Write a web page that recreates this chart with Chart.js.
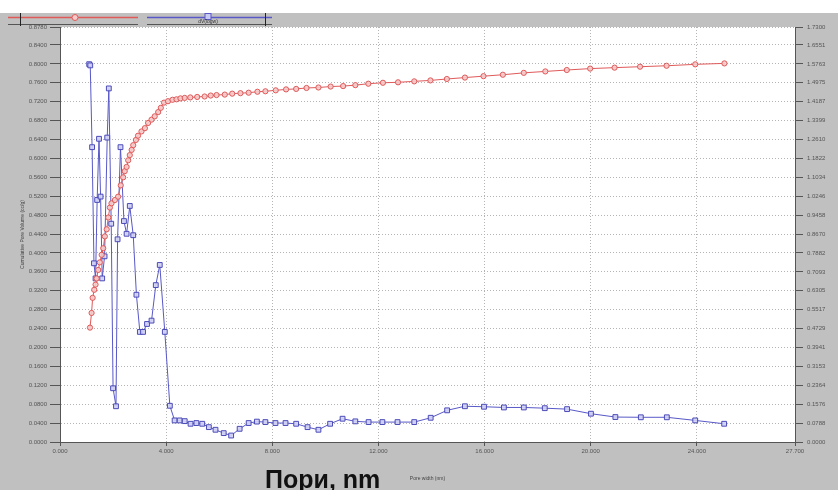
<!DOCTYPE html>
<html><head><meta charset="utf-8">
<script src="https://cdn.jsdelivr.net/npm/chart.js@4"></script>
<style>html,body{margin:0;padding:0;background:#c0c0c0;} canvas{display:block}</style>
</head><body>
<canvas id="c" width="838" height="490"></canvas>
<script>
// Cumulative pore volume (left axis, cc/g)
const cumX = [1.13,1.19,1.23,1.29,1.34,1.38,1.44,1.50,1.57,1.63,1.69,1.76,1.82,1.88,1.94,2.07,2.19,2.29,2.38,2.44,2.51,2.57,2.63,2.70,2.76,2.86,2.94,3.07,3.20,3.32,3.45,3.57,3.70,3.80,3.92,4.07,4.24,4.39,4.54,4.70,4.91,5.17,5.45,5.68,5.90,6.21,6.49,6.80,7.11,7.44,7.74,8.13,8.52,8.90,9.29,9.74,10.20,10.67,11.13,11.62,12.17,12.74,13.35,13.96,14.58,15.26,15.96,16.69,17.48,18.29,19.10,19.98,20.90,21.86,22.86,23.94,25.04];
const cumY = [0.242,0.273,0.305,0.322,0.333,0.346,0.364,0.380,0.396,0.410,0.435,0.450,0.475,0.496,0.505,0.512,0.519,0.543,0.560,0.573,0.582,0.596,0.607,0.618,0.628,0.639,0.648,0.657,0.664,0.675,0.682,0.689,0.698,0.707,0.718,0.721,0.724,0.725,0.727,0.728,0.729,0.730,0.731,0.733,0.734,0.735,0.737,0.738,0.739,0.741,0.742,0.744,0.746,0.747,0.749,0.750,0.752,0.753,0.755,0.758,0.760,0.761,0.763,0.765,0.768,0.771,0.774,0.777,0.781,0.784,0.787,0.790,0.792,0.794,0.796,0.799,0.801];
// Pore size distribution (right axis)
const distX = [1.10,1.14,1.21,1.28,1.34,1.40,1.47,1.53,1.59,1.68,1.78,1.84,1.93,2.00,2.11,2.17,2.28,2.41,2.51,2.63,2.76,2.88,3.01,3.13,3.28,3.45,3.61,3.76,3.95,4.14,4.32,4.51,4.70,4.92,5.14,5.36,5.61,5.86,6.17,6.45,6.77,7.11,7.42,7.74,8.12,8.50,8.90,9.33,9.74,10.18,10.65,11.13,11.63,12.15,12.72,13.35,13.97,14.59,15.26,15.98,16.73,17.48,18.27,19.11,20.01,20.93,21.89,22.87,23.94,25.03];
const distY = [1.575,1.570,1.229,0.745,0.682,1.009,1.264,1.023,0.682,0.774,1.269,1.474,0.910,0.224,0.149,0.845,1.229,0.921,0.868,0.984,0.862,0.614,0.459,0.459,0.492,0.506,0.654,0.738,0.459,0.151,0.090,0.090,0.087,0.076,0.079,0.076,0.062,0.051,0.037,0.027,0.055,0.079,0.085,0.083,0.079,0.079,0.076,0.062,0.051,0.076,0.097,0.086,0.083,0.083,0.083,0.083,0.101,0.132,0.149,0.147,0.144,0.144,0.141,0.137,0.118,0.104,0.103,0.103,0.090,0.076];
// Axis ticks
const xTicks = [0,4,8,12,16,20,24,27.7];
const leftTicks = [0,0.04,0.08,0.12,0.16,0.20,0.24,0.28,0.32,0.36,0.40,0.44,0.48,0.52,0.56,0.60,0.64,0.68,0.72,0.76,0.80,0.84,0.878];
const rightTicks = [0,0.0788,0.1576,0.2364,0.3153,0.3941,0.4729,0.5517,0.6305,0.7093,0.7882,0.8670,0.9458,1.0246,1.1034,1.1822,1.2610,1.3399,1.4187,1.4975,1.5763,1.6551,1.7300];
const xTitle = 'Pore width (nm)';
const yTitle = 'Cumulative Pore Volume (cc/g)';
const bigCaption = 'Пори, nm';
const seriesLabels = ['Cumulative Pore Volume', 'dV(logw)'];

const RED = '#e05a5a', BLUE = '#5858c8';
const tickFont = {family:'Liberation Sans', size:6};

const bgPlugin = {
  id:'bg',
  beforeDraw(chart){
    const {ctx, chartArea:a} = chart;
    ctx.save();
    ctx.fillStyle = '#c0c0c0'; ctx.fillRect(0,0,chart.width,chart.height);
    ctx.fillStyle = '#ffffff'; ctx.fillRect(0,0,chart.width,13);
    ctx.fillRect(a.left,a.top,a.right-a.left,a.bottom-a.top);
    ctx.restore();
  },
  afterDraw(chart){
    const ctx = chart.ctx;
    ctx.save();
    const items = [
      {x1:8,x2:138,mx:75,color:RED,shape:'circle',vx:20.5,label:''},
      {x1:147,x2:272,mx:208,color:BLUE,shape:'rect',vx:265.5,label:seriesLabels[1]}
    ];
    items.forEach(it=>{
      ctx.strokeStyle = it.color; ctx.lineWidth = 1.5;
      ctx.beginPath(); ctx.moveTo(it.x1,17.5); ctx.lineTo(it.x2,17.5); ctx.stroke();
      ctx.strokeStyle = '#555'; ctx.lineWidth = 1;
      ctx.beginPath(); ctx.moveTo(it.x1,24.5); ctx.lineTo(it.x2,24.5); ctx.stroke();
      ctx.strokeStyle = '#222';
      ctx.beginPath(); ctx.moveTo(it.vx,13); ctx.lineTo(it.vx,26); ctx.stroke();
      ctx.strokeStyle = it.color; ctx.lineWidth = 1;
      if (it.shape==='circle'){
        ctx.fillStyle = '#f6caca';
        ctx.beginPath(); ctx.arc(it.mx,17.5,3,0,Math.PI*2); ctx.fill(); ctx.stroke();
      } else {
        ctx.fillStyle = '#c8c8f0';
        ctx.fillRect(it.mx-3,13.5,6,6); ctx.strokeRect(it.mx-3,13.5,6,6);
      }
      if (it.label){
        ctx.fillStyle = '#333'; ctx.font = '5px "Liberation Sans"';
        ctx.textAlign = 'center'; ctx.textBaseline = 'middle';
        ctx.fillText(it.label, it.mx, 22);
      }
    });
    ctx.fillStyle = '#111';
    ctx.font = 'bold 25px "Liberation Sans"';
    ctx.textAlign = 'left'; ctx.textBaseline = 'alphabetic';
    ctx.fillText(bigCaption, 265, 488);
    ctx.restore();
  }
};

const tickAfterBuild = arr => scale => { scale.ticks = arr.map(v=>({value:v})); };

new Chart(document.getElementById('c'), {
  type:'line',
  data:{
    datasets:[
      {label:seriesLabels[0], data:cumX.map((x,i)=>({x, y:cumY[i]})), yAxisID:'y',
       borderColor:RED, borderWidth:1, pointStyle:'circle', pointRadius:2.6,
       pointBorderColor:RED, pointBackgroundColor:'rgba(246,202,202,0.9)', pointBorderWidth:1, tension:0},
      {label:seriesLabels[1], data:distX.map((x,i)=>({x, y:distY[i]})), yAxisID:'y1',
       borderColor:BLUE, borderWidth:1, pointStyle:'rect', pointRadius:3.4,
       pointBorderColor:'#4b4bb8', pointBackgroundColor:'rgba(210,210,245,0.9)', pointBorderWidth:1, tension:0}
    ]
  },
  options:{
    responsive:false, animation:false, devicePixelRatio:1,
    layout:{padding:{top:27,left:0,right:0,bottom:0}},
    plugins:{legend:{display:false}, tooltip:{enabled:false}},
    scales:{
      x:{type:'linear', min:0, max:27.7,
        afterBuildTicks:tickAfterBuild(xTicks),
        afterFit:s=>{s.height=48;},
        ticks:{font:tickFont, color:'#555', padding:2, maxRotation:0, autoSkip:false, callback:v=>Number(v).toFixed(3)},
        grid:{color:'#b4b4b4', lineWidth:1, tickLength:4, tickColor:'#555', tickBorderDash:[]},
        border:{color:'#555', width:1, dash:[1,2]},
        title:{display:true, text:xTitle, font:{family:'Liberation Sans', size:5}, color:'#444', padding:{top:0,bottom:8.5}}
      },
      y:{type:'linear', position:'left', min:0, max:0.878,
        afterBuildTicks:tickAfterBuild(leftTicks),
        afterFit:s=>{s.width=60;},
        ticks:{font:tickFont, color:'#555', padding:3, autoSkip:false, callback:v=>Number(v).toFixed(4)},
        grid:{color:'#b4b4b4', lineWidth:1, tickLength:10, tickColor:'#555', tickBorderDash:[]},
        border:{color:'#555', width:1, dash:[1,2]},
        title:{display:true, text:yTitle, font:{family:'Liberation Sans', size:5}, color:'#444', padding:{top:19.5,bottom:0}}
      },
      y1:{type:'linear', position:'right', min:0, max:1.73,
        afterBuildTicks:tickAfterBuild(rightTicks),
        afterFit:s=>{s.width=43;},
        ticks:{font:tickFont, color:'#555', padding:4, autoSkip:false, callback:v=>Number(v).toFixed(4)},
        grid:{drawOnChartArea:false, tickLength:8, tickColor:'#555', tickBorderDash:[]},
        border:{color:'#555', width:1}
      }
    }
  },
  plugins:[bgPlugin]
});
</script>
</body></html>
